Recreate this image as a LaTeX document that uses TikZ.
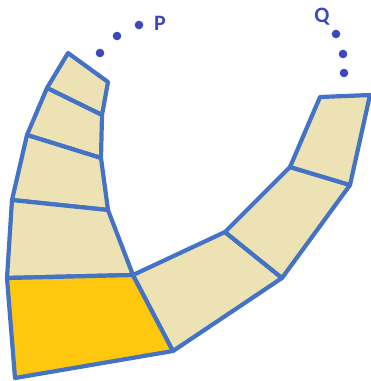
\documentclass[tikz,border=0pt]{standalone}
\usepackage{fontspec}
\setmainfont{Carlito}
\usepackage{xcolor}
\usepackage{tikz}
\usetikzlibrary{calc}
\definecolor{colorEdge}{RGB}{68,114,196}
\definecolor{colorCell}{RGB}{237,226,180}
\definecolor{colorPick}{RGB}{255,200,15}
\definecolor{colorDot}{RGB}{59,72,192}
\tikzset{
   every path/.style={line join=round},
   cell/.style={draw=colorEdge,fill=colorCell,line width=4.2pt},
   pickcell/.style={draw=colorEdge,fill=colorPick,line width=4.2pt},
   gap/.style={fill=colorDot},
   tag/.style={text=colorDot,font=\bfseries\fontsize{22}{22}\selectfont},
}

\begin{document}
\begin{tikzpicture}[x=1pt,y=-1pt]

\useasboundingbox (0,0) rectangle (371,381);

% =========================================================
% corners
% =========================================================

\coordinate (a0) at (68,53);   \coordinate (b0) at (108,82);
\coordinate (a1) at (47,88);   \coordinate (b1) at (102,115);
\coordinate (a2) at (27,135);  \coordinate (b2) at (101,158);
\coordinate (a3) at (12,200);  \coordinate (b3) at (108,210);
\coordinate (a4) at (7,278);   \coordinate (b4) at (133,275);
\coordinate (a5) at (15,378);  \coordinate (b5) at (173,351);

\coordinate (c1) at (225,232); \coordinate (d1) at (282,278);
\coordinate (c2) at (290,167); \coordinate (d2) at (350,185);
\coordinate (c3) at (320,97);  \coordinate (d3) at (370,95);


% =========================================================
% left arm
% =========================================================

\draw[cell] (a0) -- (b0) -- (b1) -- (a1) -- cycle;
\draw[cell] (a1) -- (b1) -- (b2) -- (a2) -- cycle;
\draw[cell] (a2) -- (b2) -- (b3) -- (a3) -- cycle;
\draw[cell] (a3) -- (b3) -- (b4) -- (a4) -- cycle;
\draw[pickcell] (a4) -- (b4) -- (b5) -- (a5) -- cycle;


% =========================================================
% right arm
% =========================================================

\draw[cell] (b4) -- (c1) -- (d1) -- (b5) -- cycle;
\draw[cell] (c1) -- (c2) -- (d2) -- (d1) -- cycle;
\draw[cell] (c2) -- (c3) -- (d3) -- (d2) -- cycle;


% =========================================================
% P and Q
% =========================================================

\foreach \x/\y in {100/53, 117/36, 139/25}
   \fill[gap] (\x,\y) circle (4.3);
\node[tag] (p) at (160,23) {P};

\foreach \x/\y in {336/34, 343/54, 344/73}
   \fill[gap] (\x,\y) circle (4.3);
\node[tag] (q) at (322,17) {Q};

\end{tikzpicture}
\end{document}
